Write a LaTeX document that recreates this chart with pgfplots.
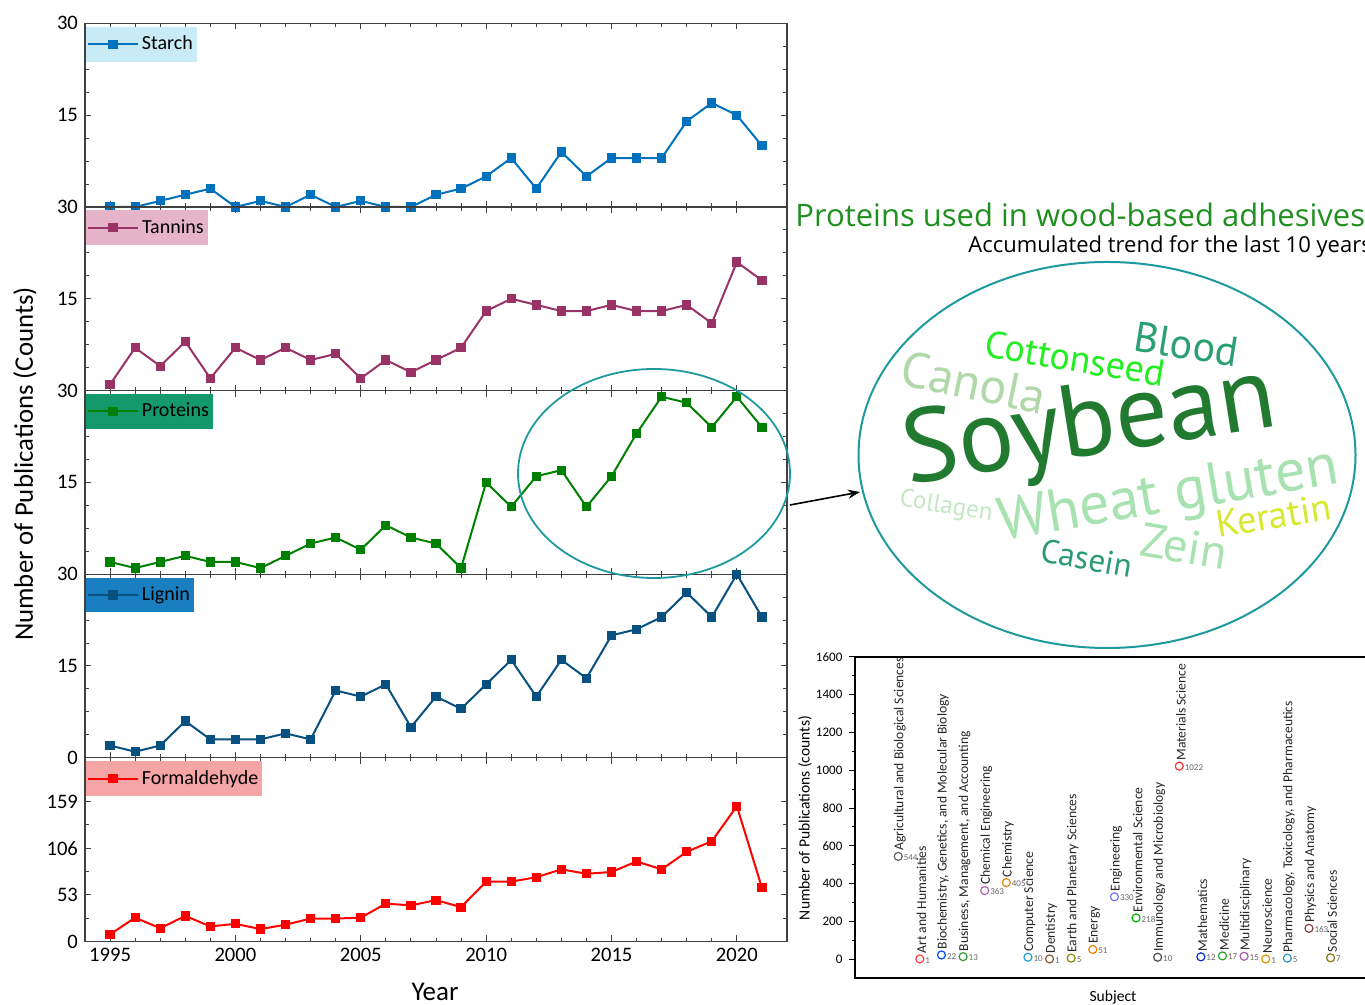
\documentclass[border=0pt]{standalone}
\usepackage{fontspec}
\setmainfont{Carlito}
\newfontfamily\cloudfont{PT Sans}
\newfontfamily\titlefont{Open Sans}
\usepackage{pgfplots}
\pgfplotsset{compat=1.18}
\usetikzlibrary{arrows.meta}

\definecolor{cstarch}{HTML}{0072BD}
\definecolor{ctannin}{HTML}{993366}
\definecolor{cprot}{HTML}{008000}
\definecolor{clignin}{HTML}{08507F}
\definecolor{cform}{HTML}{FF0000}
\definecolor{lstarch}{HTML}{C8EBF5}
\definecolor{ltannin}{HTML}{E6B4C8}
\definecolor{lprot}{HTML}{13996B}
\definecolor{llignin}{HTML}{1A7FC0}
\definecolor{lform}{HTML}{F5A5A5}
\definecolor{cteal}{HTML}{1E9A9E}
\definecolor{ctitle}{HTML}{1F8F1F}
\definecolor{wsoy}{HTML}{217A30}
\definecolor{wwheat}{HTML}{A8E2B0}
\definecolor{wcanola}{HTML}{B0D8A8}
\definecolor{wcotton}{HTML}{22EE22}
\definecolor{wblood}{HTML}{2AA070}
\definecolor{wcoll}{HTML}{C2E8C2}
\definecolor{wcasein}{HTML}{2A9A70}
\definecolor{wzein}{HTML}{A8E2B0}
\definecolor{wker}{HTML}{D6E830}

\pgfplotsset{
  panel/.style={
    scale only axis, width=351pt, height=91.8pt,
    anchor=south west,
    xmin=1994, xmax=2022,
    xtick={1995,2000,...,2020}, minor x tick num=4,
    xticklabels={},
    tick align=inside,
    xtick pos=both, ytick pos=both,
    major tick length=3pt, minor tick length=1.8pt,
    axis line style={draw=black!75, line width=0.6pt},
    every tick/.style={black!75, line width=0.5pt},
    ymin=0, ymax=30, ytick={0,15,30}, minor y tick num=3,
    tick label style={font=\fontsize{10.3}{12}\selectfont},
    /pgf/number format/assume math mode=true,
    /pgf/number format/1000 sep={},
    clip=false,
    legend style={at={(0,1)}, anchor=north west, xshift=0.3pt, yshift=-1.5pt,
      draw=none, font=\fontsize{10}{12}\selectfont, inner xsep=0.5pt, inner ysep=2.5pt,
      nodes={inner xsep=1.5pt}},
    legend image code/.code={\draw[mark repeat=2, mark phase=2] plot coordinates {(0pt,0pt) (12.5pt,0pt) (25pt,0pt)};},
    every axis plot/.append style={line width=1pt, mark=square*, mark size=1.8pt, mark options={solid}},
  }
}

\newcommand{\cat}[4]{%
  \addplot[only marks, mark=o, mark size=2pt, line width=0.6pt, color=#3] coordinates {(#1,#2)};
  \node[yshift=2.6pt, xshift=0.8pt, rotate=90, anchor=west, inner sep=0pt, font=\fontsize{6.8}{7.5}\selectfont, text=black!85] at (axis cs:#1,#2) {#4};
  \node[xshift=2.6pt, yshift=-0.6pt, anchor=west, inner sep=0pt, font=\fontsize{4.5}{5}\selectfont, text=black!60] at (axis cs:#1,#2) {#2};
}

\begin{document}
\begin{tikzpicture}
\useasboundingbox (0,0) rectangle (682.5pt,502.5pt);

% Starch
\begin{axis}[panel, at={(42.5pt,399pt)}, yticklabels={,15,30}, legend style={fill=lstarch}]
\addplot[color=cstarch] coordinates {
(1995,0)(1996,0)(1997,1)(1998,2)(1999,3)(2000,0)(2001,1)(2002,0)(2003,2)(2004,0)
(2005,1)(2006,0)(2007,0)(2008,2)(2009,3)(2010,5)(2011,8)(2012,3)(2013,9)(2014,5)
(2015,8)(2016,8)(2017,8)(2018,14)(2019,17)(2020,15)(2021,10)};
\addlegendentry{Starch}
\end{axis}

% Tannins
\begin{axis}[panel, at={(42.5pt,307.2pt)}, yticklabels={,15,30}, legend style={fill=ltannin}]
\addplot[color=ctannin] coordinates {
(1995,1)(1996,7)(1997,4)(1998,8)(1999,2)(2000,7)(2001,5)(2002,7)(2003,5)(2004,6)
(2005,2)(2006,5)(2007,3)(2008,5)(2009,7)(2010,13)(2011,15)(2012,14)(2013,13)(2014,13)
(2015,14)(2016,13)(2017,13)(2018,14)(2019,11)(2020,21)(2021,18)};
\addlegendentry{Tannins}
\end{axis}

% Proteins
\begin{axis}[panel, at={(42.5pt,215.4pt)}, yticklabels={,15,30}, legend style={fill=lprot}]
\addplot[color=cprot] coordinates {
(1995,2)(1996,1)(1997,2)(1998,3)(1999,2)(2000,2)(2001,1)(2002,3)(2003,5)(2004,6)
(2005,4)(2006,8)(2007,6)(2008,5)(2009,1)(2010,15)(2011,11)(2012,16)(2013,17)(2014,11)
(2015,16)(2016,23)(2017,29)(2018,28)(2019,24)(2020,29)(2021,24)};
\addlegendentry{Proteins}
\end{axis}

% Lignin
\begin{axis}[panel, at={(42.5pt,123.6pt)}, legend style={fill=llignin}]
\addplot[color=clignin] coordinates {
(1995,2)(1996,1)(1997,2)(1998,6)(1999,3)(2000,3)(2001,3)(2002,4)(2003,3)(2004,11)
(2005,10)(2006,12)(2007,5)(2008,10)(2009,8)(2010,12)(2011,16)(2012,10)(2013,16)(2014,13)
(2015,20)(2016,21)(2017,23)(2018,27)(2019,23)(2020,30)(2021,23)};
\addlegendentry{Lignin}
\end{axis}

% Formaldehyde
\begin{axis}[panel, at={(42.5pt,31.8pt)}, ymax=209, ytick={0,53,106,159}, minor y tick num=1,
  xticklabels={1995,2000,2005,2010,2015,2020}, legend style={fill=lform}]
\addplot[color=cform] coordinates {
(1995,8)(1996,27)(1997,15)(1998,29)(1999,17)(2000,20)(2001,14)(2002,19)(2003,26)(2004,26)
(2005,27)(2006,43)(2007,41)(2008,47)(2009,39)(2010,68)(2011,68)(2012,73)(2013,82)(2014,77)
(2015,79)(2016,91)(2017,82)(2018,102)(2019,114)(2020,154)(2021,61)};
\addlegendentry{Formaldehyde}
\end{axis}

\node[rotate=90, font=\fontsize{13.4}{15}\selectfont] at (12.5pt,270.5pt) {Number of Publications (Counts)};
\node[anchor=base, inner sep=0pt, font=\fontsize{13.5}{15}\selectfont] at (217.5pt,2pt) {Year};

% annotation ellipse and arrow
\draw[cteal, line width=0.9pt] (327pt,265.75pt) ellipse [x radius=68pt, y radius=52.25pt];
\draw[-{Stealth[length=6pt,width=4.5pt]}, line width=0.8pt] (395pt,250pt) -- (430pt,256.5pt);

% title
\node[overlay, anchor=base west, inner sep=0pt, font=\titlefont\fontsize{15.5}{17}\selectfont, text=ctitle] at (397.5pt,389.2pt) {Proteins used in wood-based adhesives};
\node[overlay, anchor=base west, inner sep=0pt, font=\titlefont\fontsize{11}{12}\selectfont] at (484pt,376.3pt) {Accumulated trend for the last 10 years};

% word cloud
\draw[cteal, line width=1pt] (553.5pt,275pt) ellipse [x radius=124.25pt, y radius=96.5pt];
\begin{scope}[every node/.style={inner sep=0pt}]
\node[font=\cloudfont\fontsize{52}{52}\selectfont, text=wsoy, rotate=9] at (545pt,288pt) {Soybean};
\node[font=\cloudfont\fontsize{30}{30}\selectfont, text=wwheat, rotate=9.5] at (584.2pt,253.8pt) {Wheat gluten};
\node[font=\cloudfont\fontsize{25}{25}\selectfont, text=wcanola, rotate=-12] at (487pt,311.3pt) {Canola};
\node[font=\cloudfont\fontsize{19}{19}\selectfont, text=wcotton, rotate=-9.5] at (537.5pt,323.3pt) {Cottonseed};
\node[font=\cloudfont\fontsize{21}{21}\selectfont, text=wblood, rotate=-9] at (593.2pt,330.5pt) {Blood};
\node[font=\cloudfont\fontsize{12.5}{13}\selectfont, text=wcoll, rotate=-9] at (473pt,249pt) {Collagen};
\node[font=\cloudfont\fontsize{16.5}{17}\selectfont, text=wcasein, rotate=-10] at (543.3pt,223.3pt) {Casein};
\node[font=\cloudfont\fontsize{24}{24}\selectfont, text=wzein, rotate=-9.5] at (592pt,229.5pt) {Zein};
\node[font=\cloudfont\fontsize{19}{19}\selectfont, text=wker, rotate=9] at (636.7pt,244.8pt) {Keratin};
\end{scope}

% subject scatter
\begin{axis}[overlay, scale only axis, width=259.4pt, height=160.5pt, at={(427.5pt,13.5pt)}, anchor=south west,
  xmin=-1, xmax=23, ymin=-100, ymax=1600, xtick=\empty,
  ytick={0,200,...,1600}, minor y tick num=1, ytick pos=left, tick align=outside,
  major tick length=2.8pt, minor tick length=1.6pt,
  axis line style={line width=0.7pt}, every tick/.style={black, line width=0.5pt},
  tick label style={font=\fontsize{6.5}{7}\selectfont},
  /pgf/number format/assume math mode=true, /pgf/number format/1000 sep={},
  clip=false]
\cat{1}{544}{black!62}{Agricultural and Biological Sciences}
\cat{2}{1}{red!75!white}{Art and Humanities}
\cat{3}{22}{blue!70!cyan}{Biochemistry, Genetics, and Molecular Biology}
\cat{4}{13}{green!50!black!80!white}{Business, Management, and Accounting}
\cat{5}{363}{violet!60!white}{Chemical Engineering}
\cat{6}{405}{orange!80!yellow!90!black}{Chemistry}
\cat{7}{10}{cyan!85!black}{Computer Science}
\cat{8}{1}{brown!70!black}{Dentistry}
\cat{9}{5}{olive}{Earth and Planetary Sciences}
\cat{10}{51}{orange}{Energy}
\cat{11}{330}{blue!55!white}{Engineering}
\cat{12}{218}{green!70!black}{Environmental Science}
\cat{13}{10}{black!70}{Immunology and Microbiology}
\cat{14}{1022}{red!80!white}{Materials Science}
\cat{15}{12}{blue!80!cyan!90!black}{Mathematics}
\cat{16}{17}{green!60!black!85!white}{Medicine}
\cat{17}{15}{violet!65!white}{Multidisciplinary}
\cat{18}{1}{orange!70!yellow!90!black}{Neuroscience}
\cat{19}{5}{cyan!75!black}{Pharmacology, Toxicology, and Pharmaceutics}
\cat{20}{163}{red!40!black!75!white}{Physics and Anatomy}
\cat{21}{7}{olive!90!black}{Social Sciences}
\end{axis}
\node[rotate=90, font=\fontsize{7.8}{9}\selectfont] at (402.5pt,93.5pt) {Number of Publications (counts)};
\node[font=\fontsize{7.8}{9}\selectfont] at (556.5pt,3.8pt) {Subject};
\end{tikzpicture}
\end{document}
